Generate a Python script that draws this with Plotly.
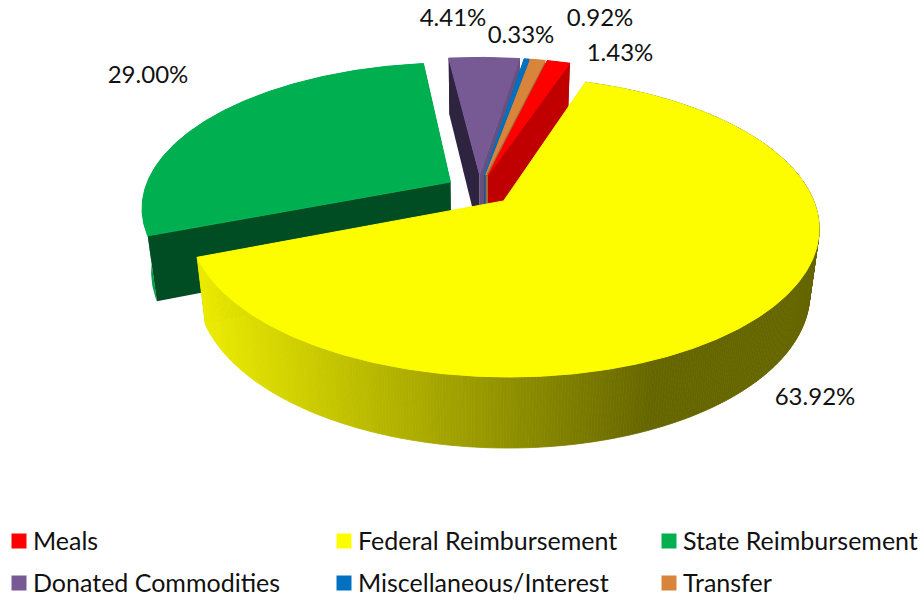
import math
import plotly.graph_objects as go

# ---- data ----
categories = ["Meals", "Federal Reimbursement", "State Reimbursement",
              "Donated Commodities", "Miscellaneous/Interest", "Transfer"]
shares = [1.43, 63.92, 29.00, 4.41, 0.33, 0.92]

# ---- style ----
top_colors = ["#ff0000", "#fdfd00", "#00b050", "#775a94", "#0070c0", "#d9843b"]
wall_colors = ["#c00000", None, "#00a04a", "#3a2c50", "#005a9a", "#a86028"]
face_start = ["#c00000", "#666600", "#004d24", "#2e2440", "#004f86", "#8f5a30"]
face_end = ["#c00000", "#666600", "#004d24", "#66507f", "#005a9a", "#a5693a"]
FONT = "Lato"
LABEL_SIZE = 24
LEGEND_SIZE = 25

# ---- projection (a tilted, exploded pie with perspective) ----
CX, CY, A, B, K, M, D = 479, 190, 306, 142, 0.17, 0.027, 65
FIRST_ANGLE, EXPLODE = 13.5, 0.11


def project(X, Y, d=0.0):
    w = 1 + K * Y + M * d
    return CX + A * X / w, CY + (-B * Y + D * d) / w


def polygon(points, color, lw=0.0):
    xs, ys = zip(*points)
    return go.Scatter(x=list(xs) + [xs[0]], y=list(ys) + [ys[0]], mode="lines",
                      fill="toself", fillcolor=color,
                      line=dict(color=color, width=lw),
                      hoverinfo="skip", showlegend=False)


def yellow_wall(sx):
    t = min(max((sx - 205) / (650 - 205), 0), 1)
    v = round(235 + (102 - 235) * t)
    return f"rgb({v},{v},0)"


fig = go.Figure()
total = sum(shares)
spans = []
a0 = FIRST_ANGLE
for s in shares:
    a1 = a0 + s / total * 360
    spans.append((a0, a1))
    a0 = a1


def disc(i, ang):
    mid = math.radians(sum(spans[i]) / 2)
    r = math.radians(ang)
    return (math.sin(r) + EXPLODE * math.sin(mid), math.cos(r) + EXPLODE * math.cos(mid))


def apex(i):
    mid = math.radians(sum(spans[i]) / 2)
    return (EXPLODE * math.sin(mid), EXPLODE * math.cos(mid))


def draw(i):
    t0, t1 = spans[i]
    n = max(int((t1 - t0) * 2), 2)
    angs = [t0 + (t1 - t0) * j / n for j in range(n + 1)]
    ap = apex(i)

    def faces():
        for ang, col in ((t0, face_start[i]), (t1, face_end[i])):
            p = disc(i, ang)
            fig.add_trace(polygon([project(*ap), project(*p), project(*p, 1), project(*ap, 1)], col))

    if wall_colors[i] is None:
        # the large front slice: its cut faces point away, so its wall goes over them
        faces()
        for j in range(n):
            p, q = disc(i, angs[j]), disc(i, angs[j + 1])
            seg = [project(*p), project(*q), project(*q, 1), project(*p, 1)]
            col = yellow_wall(sum(s[0] for s in seg) / 4)
            fig.add_trace(polygon(seg, col, 0.8))
    else:
        pts = [disc(i, a) for a in angs]
        fig.add_trace(polygon([project(*p) for p in pts] +
                              [project(*p, 1) for p in reversed(pts)], wall_colors[i]))
        faces()
    fig.add_trace(polygon([project(*ap)] + [project(*disc(i, a)) for a in angs], top_colors[i], 1.0))


for i in (2, 3, 4, 5, 0, 1):
    draw(i)

# ---- value labels ----
label_pos = [(620, 55), (815, 399), (148, 77), (453, 20), (521, 37), (600, 20)]
fig.add_trace(go.Scatter(
    x=[p[0] for p in label_pos], y=[p[1] for p in label_pos], mode="text",
    text=[f"{v:.2f}%" for v in shares], textposition="middle center",
    textfont=dict(family=FONT, size=LABEL_SIZE, color="#111111"),
    hoverinfo="skip", showlegend=False))

# ---- legend ----
legend_pos = [(19, 541), (344, 541), (669, 541), (19, 583), (344, 583), (669, 583)]
for name, col, (lx, ly) in zip(categories, top_colors, legend_pos):
    fig.add_trace(go.Scatter(
        x=[lx], y=[ly], mode="markers", name=name,
        marker=dict(symbol="square", size=15, color=col, line=dict(width=0)),
        showlegend=False, hoverinfo="name", cliponaxis=False))
    fig.add_trace(go.Scatter(
        x=[lx + 14], y=[ly + 3], mode="text", text=[name], textposition="middle right",
        textfont=dict(family=FONT, size=LEGEND_SIZE, color="#111111"),
        showlegend=False, hoverinfo="skip", cliponaxis=False))

fig.update_layout(
    width=924, height=598, margin=dict(l=0, r=0, t=0, b=0),
    paper_bgcolor="white", plot_bgcolor="white", showlegend=False,
    xaxis=dict(range=[0, 924], visible=False, fixedrange=True),
    yaxis=dict(range=[598, 0], visible=False, fixedrange=True),
)
fig.write_html("out.html", config={"displayModeBar": False},
               post_script="document.body.style.margin='0';document.body.style.overflow='hidden';")
